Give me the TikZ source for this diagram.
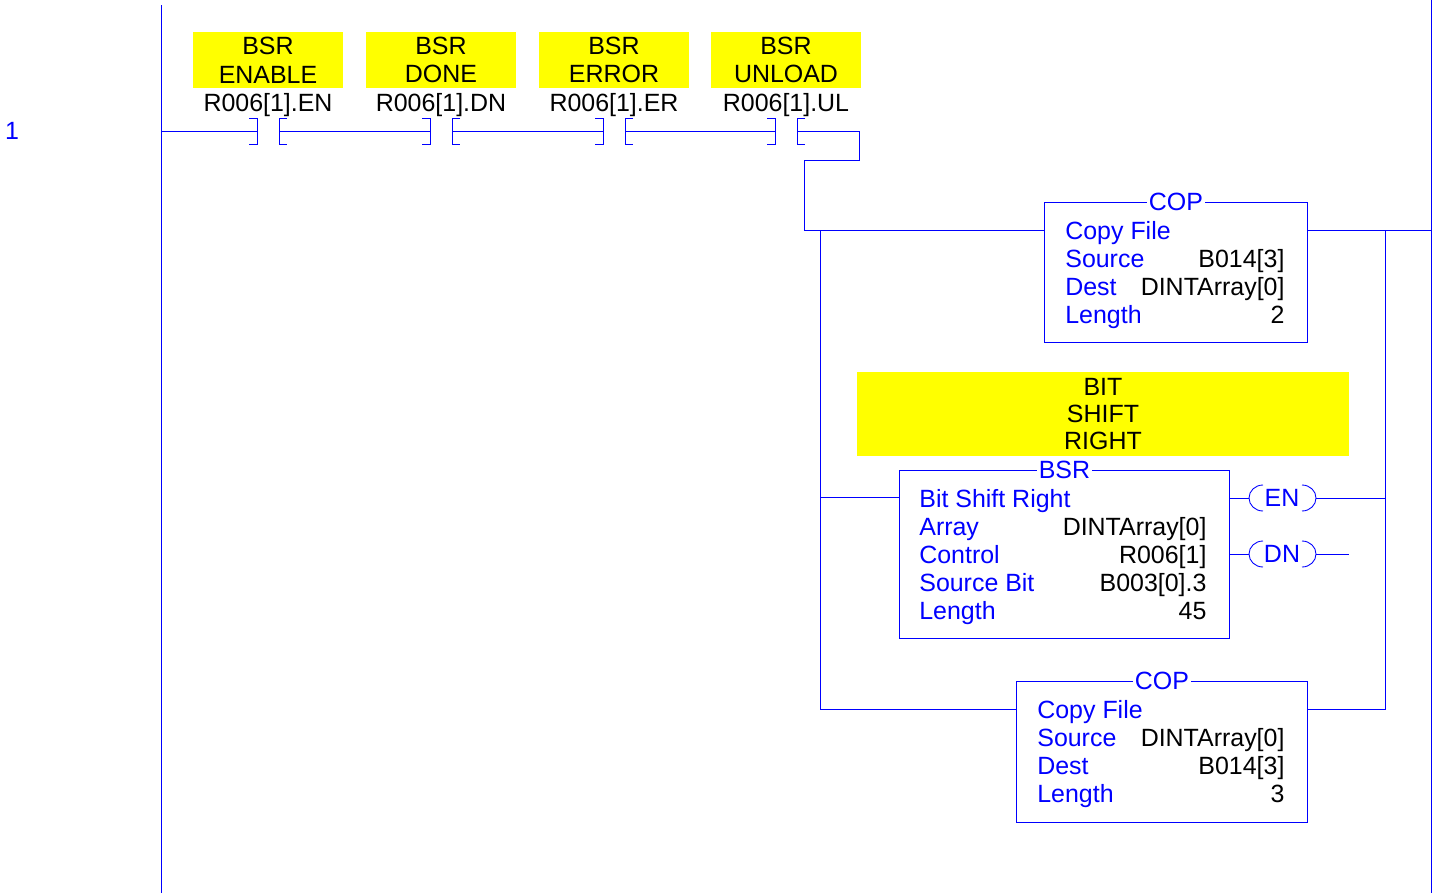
\documentclass[tikz,border=0pt]{standalone}
\usepackage{fontspec}
\setmainfont{Liberation Sans}
\definecolor{ladblue}{RGB}{0,0,255}
\definecolor{tagyellow}{RGB}{255,255,0}
\tikzset{
  wire/.style={ladblue, line width=0.5pt},
  tagbox/.style={fill=tagyellow, inner sep=0pt, align=center},
  insbox/.style={draw=ladblue, line width=0.5pt, inner sep=0pt, anchor=north west},
  institle/.style={fill=white, text=ladblue, inner xsep=1pt, inner ysep=0pt},
  parlbl/.style={ladblue, inner sep=0pt, anchor=base west},
  parval/.style={inner sep=0pt, anchor=base east}
}
\begin{document}
\begin{tikzpicture}[x=0.02cm, y=-0.02cm, font=\fontsize{14.2}{16.4}\selectfont]
\useasboundingbox (0,0) rectangle (1437,893);
% power rails
\draw[wire] (161,5) -- (161,893);
\draw[wire] (1431,0) -- (1431,893);
\node[ladblue] (rungno) at (12,131) {1};
\coordinate (railL) at (161,131);
% contacts
\foreach \cx/\word/\bit [count=\i] in {268/ENABLE/EN, 441/DONE/DN, 614/ERROR/ER, 786/UNLOAD/UL}{
  \node[tagbox, minimum width=3.02cm, minimum height=1.12cm] (tag\i) at (\cx,60) {BSR\\\word};
  \node[inner sep=0pt, anchor=base] (addr\i) at (\cx,111) {R006[1].\bit};
  \coordinate (cl\i) at (\cx-11,131);
  \coordinate (cr\i) at (\cx+11,131);
  \draw[wire] ([shift={(-8,-13)}]cl\i) -- ([shift={(0,-13)}]cl\i) -- ([shift={(0,13)}]cl\i) -- ([shift={(-8,13)}]cl\i);
  \draw[wire] ([shift={(8,-13)}]cr\i) -- ([shift={(0,-13)}]cr\i) -- ([shift={(0,13)}]cr\i) -- ([shift={(8,13)}]cr\i);
}
\draw[wire] (railL) -- (cl1);
\draw[wire] (cr1) -- (cl2);
\draw[wire] (cr2) -- (cl3);
\draw[wire] (cr3) -- (cl4);
% instructions
\node[insbox, minimum width=5.26cm, minimum height=2.8cm] (cop1) at (1044,202) {};
\node[institle] (cop1t) at (cop1.north) {COP};
\foreach \lbl/\val [count=\r] in {Copy File/{}, Source/{B014[3]}, Dest/{DINTArray[0]}, Length/2}{
  \node[parlbl] (cop1l\r) at ([shift={(21,28*\r+9)}]cop1.north west) {\lbl};
  \node[parval] (cop1v\r) at ([shift={(-23,28*\r+9)}]cop1.north east) {\val};
}
\node[tagbox, minimum width=9.84cm, minimum height=1.68cm, font=\fontsize{14.2}{15.6}\selectfont] (bsrtag) at (1103,414) {BIT\\SHIFT\\RIGHT};
\node[insbox, minimum width=6.6cm, minimum height=3.36cm] (bsr) at (899,470) {};
\node[institle] (bsrt) at (bsr.north) {BSR};
\foreach \lbl/\val [count=\r] in {Bit Shift Right/{}, Array/{DINTArray[0]}, Control/{R006[1]}, Source Bit/{B003[0].3}, Length/45}{
  \node[parlbl] (bsrl\r) at ([shift={(20,28*\r+9)}]bsr.north west) {\lbl};
  \node[parval] (bsrv\r) at ([shift={(-23,28*\r+9)}]bsr.north east) {\val};
}
\node[insbox, minimum width=5.82cm, minimum height=2.82cm] (cop2) at (1016,681) {};
\node[institle] (cop2t) at (cop2.north) {COP};
\foreach \lbl/\val [count=\r] in {Copy File/{}, Source/{DINTArray[0]}, Dest/{B014[3]}, Length/3}{
  \node[parlbl] (cop2l\r) at ([shift={(21,28*\r+9)}]cop2.north west) {\lbl};
  \node[parval] (cop2v\r) at ([shift={(-23,28*\r+9)}]cop2.north east) {\val};
}
% branches
\coordinate (jA) at (804,230);
\coordinate (jB) at (820,230);
\coordinate (jC) at (820,497);
\coordinate (jD) at (820,709);
\coordinate (kA) at (1385,230);
\coordinate (kB) at (1385,498);
\coordinate (kD) at (1385,709);
\coordinate (railR) at (1431,230);
\coordinate (dnEnd) at (1349,554);
\draw[wire] (cr4) -- (859,131) -- (859,160) -- (804,160) -- (jA) -- (cop1.west |- jA);
\draw[wire] (jB) -- (jD) -- (cop2.west |- jD);
\draw[wire] (jC) -- (bsr.west |- jC);
\draw[wire] (cop1.east |- kA) -- (railR);
\draw[wire] (kA) -- (kD) -- (cop2.east |- kD);
% output coils
\foreach \bit/\yy/\to in {EN/498/kB, DN/554/dnEnd}{
  \node[ladblue] (coil\bit) at (1282,\yy) {\bit};
  \draw[wire] (bsr.east |- coil\bit) -- ([shift={(-33,0)}]coil\bit.center);
  \draw[wire] ([shift={(-19,-13)}]coil\bit.center) .. controls ([shift={(-27,-13)}]coil\bit.center) and ([shift={(-33,-7)}]coil\bit.center) .. ([shift={(-33,0)}]coil\bit.center)
    .. controls ([shift={(-33,7)}]coil\bit.center) and ([shift={(-27,13)}]coil\bit.center) .. ([shift={(-19,13)}]coil\bit.center);
  \draw[wire] ([shift={(20,-13)}]coil\bit.center) .. controls ([shift={(28,-13)}]coil\bit.center) and ([shift={(34,-7)}]coil\bit.center) .. ([shift={(34,0)}]coil\bit.center)
    .. controls ([shift={(34,7)}]coil\bit.center) and ([shift={(28,13)}]coil\bit.center) .. ([shift={(20,13)}]coil\bit.center);
  \draw[wire] ([shift={(34,0)}]coil\bit.center) -- (\to);
}
\end{tikzpicture}
\end{document}
